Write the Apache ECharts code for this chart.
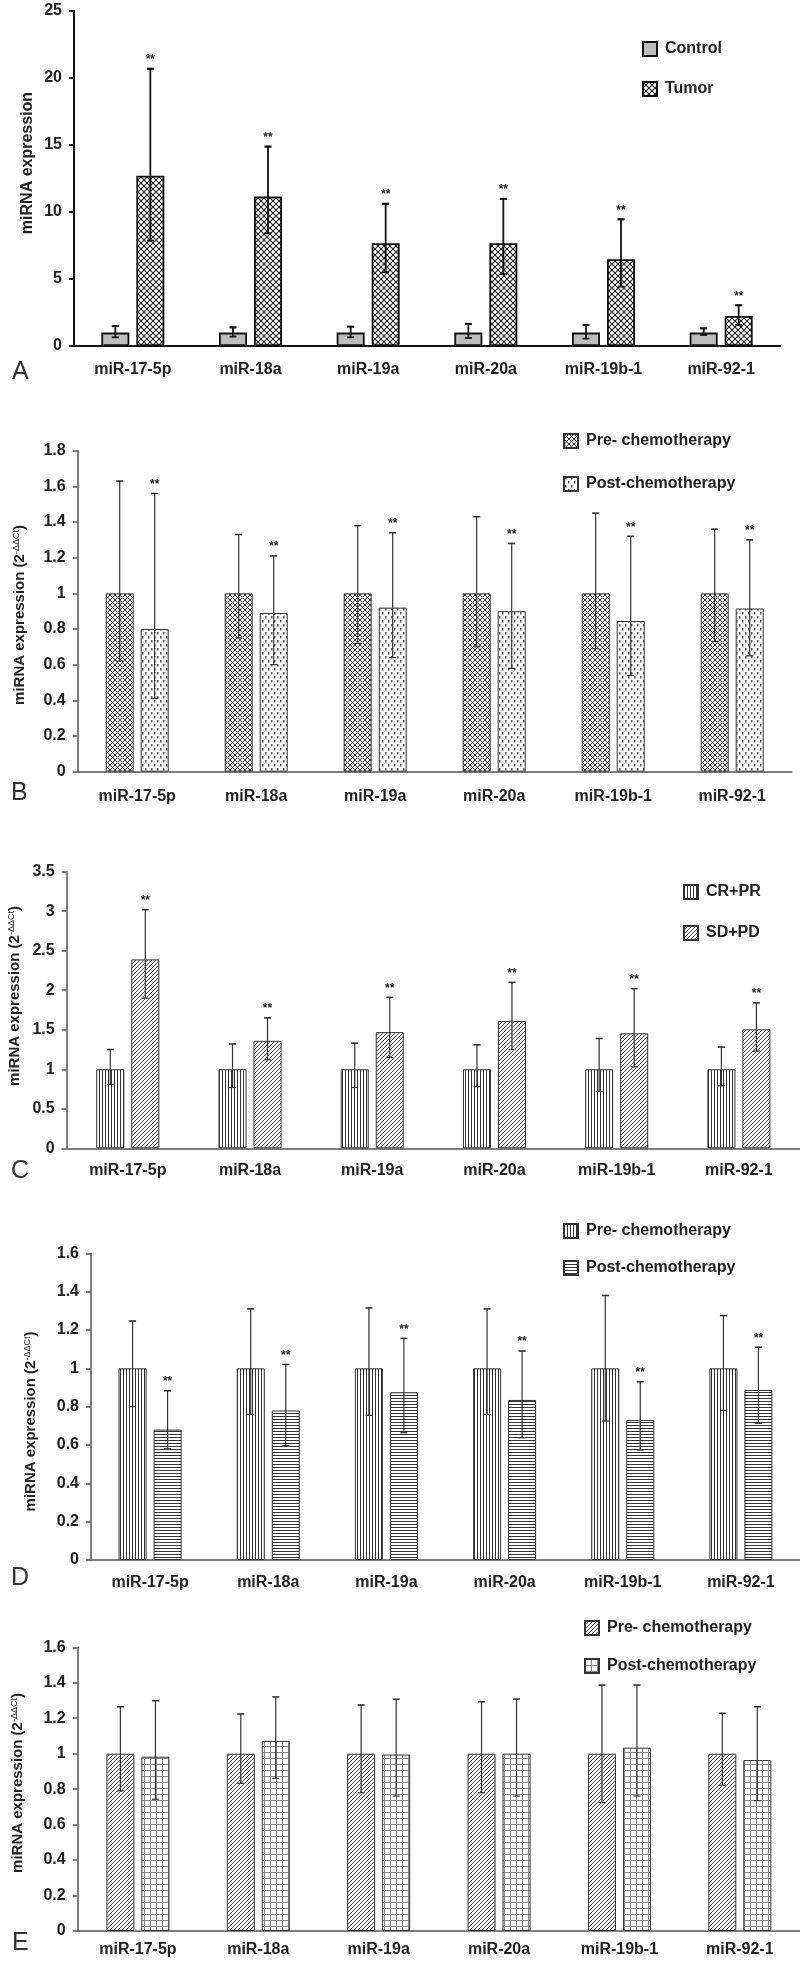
<!DOCTYPE html>
<html>
<head>
<meta charset="utf-8">
<script src="https://cdn.jsdelivr.net/npm/echarts@6/dist/echarts.min.js"></script>
<style>
  html, body { margin: 0; padding: 0; background: #fff; }
  #chart { width: 800px; height: 1962px; }
</style>
</head>
<body>
<div id="chart"></div>
<script>
// ---------- DATA ----------
const categories = ['miR-17-5p', 'miR-18a', 'miR-19a', 'miR-20a', 'miR-19b-1', 'miR-92-1'];

// Panel A
const aControl     = [1.0, 1.0, 1.0, 1.0, 1.0, 1.0];
const aControlHigh = [1.49, 1.39, 1.44, 1.64, 1.57, 1.32];
const aControlLow  = [0.65, 0.70, 0.65, 0.60, 0.55, 0.82];
const aTumor       = [12.7, 11.14, 7.66, 7.66, 6.47, 2.24];
const aTumorHigh   = [20.67, 14.87, 10.6, 10.97, 9.45, 3.04];
const aTumorLow    = [7.86, 8.4, 5.5, 5.35, 4.43, 1.57];

// Panel B
const bPre      = [1.0, 1.0, 1.0, 1.0, 1.0, 1.0];
const bPreHigh  = [1.63, 1.33, 1.38, 1.43, 1.45, 1.36];
const bPreLow   = [0.62, 0.75, 0.72, 0.70, 0.69, 0.73];
const bPost     = [0.80, 0.89, 0.92, 0.90, 0.845, 0.915];
const bPostHigh = [1.56, 1.21, 1.34, 1.28, 1.32, 1.30];
const bPostLow  = [0.41, 0.60, 0.64, 0.58, 0.54, 0.65];

// Panel C
const cCR     = [1.0, 1.0, 1.0, 1.0, 1.0, 1.0];
const cCRHigh = [1.25, 1.32, 1.33, 1.31, 1.39, 1.28];
const cCRLow  = [0.81, 0.77, 0.77, 0.78, 0.72, 0.79];
const cSD     = [2.39, 1.36, 1.47, 1.61, 1.455, 1.505];
const cSDHigh = [3.02, 1.65, 1.91, 2.10, 2.02, 1.84];
const cSDLow  = [1.90, 1.12, 1.15, 1.25, 1.03, 1.23];

// Panel D
const dPre      = [1.0, 1.0, 1.0, 1.0, 1.0, 1.0];
const dPreHigh  = [1.247, 1.31, 1.315, 1.31, 1.38, 1.275];
const dPreLow   = [0.80, 0.76, 0.755, 0.76, 0.725, 0.78];
const dPost     = [0.68, 0.78, 0.875, 0.835, 0.73, 0.887];
const dPostHigh = [0.883, 1.02, 1.156, 1.09, 0.93, 1.11];
const dPostLow  = [0.58, 0.596, 0.664, 0.638, 0.574, 0.713];

// Panel E
const ePre      = [1.0, 1.0, 1.0, 1.0, 1.0, 1.0];
const ePreHigh  = [1.265, 1.224, 1.275, 1.293, 1.387, 1.228];
const ePreLow   = [0.79, 0.833, 0.78, 0.78, 0.724, 0.823];
const ePost     = [0.983, 1.072, 0.995, 1.0, 1.034, 0.964];
const ePostHigh = [1.299, 1.32, 1.307, 1.308, 1.387, 1.265];
const ePostLow  = [0.743, 0.861, 0.761, 0.761, 0.761, 0.735];

// axis ranges / labels
const yMaxA = 25,  yStepA = 5;
const yMaxB = 1.8, yStepB = 0.2;
const yMaxC = 3.5, yStepC = 0.5;
const yMaxD = 1.6, yStepD = 0.2;
const yMaxE = 1.6, yStepE = 0.2;

const legendA = ['Control', 'Tumor'];
const legendB = ['Pre- chemotherapy', 'Post-chemotherapy'];
const legendC = ['CR+PR', 'SD+PD'];
const legendD = ['Pre- chemotherapy', 'Post-chemotherapy'];
const legendE = ['Pre- chemotherapy', 'Post-chemotherapy'];
const sigMark = '**';
const yNameA = 'miRNA expression';
const yNameRel = 'miRNA expression (2{sup|-ΔΔCt})';
const panelLetters = ['A', 'B', 'C', 'D', 'E'];

// ---------- PATTERNS ----------
function tile(w, h, draw) {
  const c = document.createElement('canvas');
  c.width = w; c.height = h;
  const ctx = c.getContext('2d');
  ctx.fillStyle = '#fff';
  ctx.fillRect(0, 0, w, h);
  draw(ctx, w, h);
  return { image: c, repeat: 'repeat' };
}
function crossHatch(s, color, lw) {
  return tile(s, s, (ctx, w, h) => {
    ctx.strokeStyle = color; ctx.lineWidth = lw;
    ctx.beginPath();
    ctx.moveTo(-1, -1); ctx.lineTo(w + 1, h + 1);
    ctx.moveTo(-1, h + 1); ctx.lineTo(w + 1, -1);
    ctx.stroke();
  });
}
function diag(s, color, lw) {
  return tile(s, s, (ctx, w, h) => {
    ctx.strokeStyle = color; ctx.lineWidth = lw;
    ctx.beginPath();
    ctx.moveTo(-1, h + 1); ctx.lineTo(w + 1, -1);
    ctx.moveTo(-1, 1); ctx.lineTo(1, -1);
    ctx.moveTo(w - 1, h + 1); ctx.lineTo(w + 1, h - 1);
    ctx.stroke();
  });
}
function vLines(s, color) {
  return tile(s, 4, (ctx, w, h) => { ctx.fillStyle = color; ctx.fillRect(0, 0, 1, h); });
}
function hLines(s, color) {
  return tile(4, s, (ctx, w, h) => { ctx.fillStyle = color; ctx.fillRect(0, 0, w, 1); });
}
function gridPat(s, color) {
  return tile(s, s, (ctx, w, h) => {
    ctx.fillStyle = color; ctx.fillRect(0, 0, w, 1); ctx.fillRect(0, 0, 1, h);
  });
}
function dots() {
  return tile(6, 8, (ctx) => {
    ctx.fillStyle = '#555';
    ctx.fillRect(1, 0, 1.5, 2.5);
    ctx.fillRect(4, 4, 1.5, 2.5);
  });
}

const pats = {
  aControl: '#bdbdbd',
  aTumor: crossHatch(6, '#222', 1.1),
  bPre: crossHatch(5, '#333', 1),
  bPost: dots(),
  cCR: vLines(3, '#333'),
  cSD: diag(4, '#444', 1),
  dPre: vLines(3, '#333'),
  dPost: hLines(3, '#333'),
  ePre: diag(4, '#444', 1),
  ePost: gridPat(6, '#888')
};

// ---------- BUILD ----------
const panels = [
  { key: 'A', grid: { left: 74, top: 10.7, width: 706, height: 335.3 }, max: yMaxA, step: yStepA,
    names: legendA, vals: [aControl, aTumor], hi: [aControlHigh, aTumorHigh], lo: [aControlLow, aTumorLow],
    fills: [pats.aControl, pats.aTumor], sig: [false, true], bold: true,
    legend: { left: 642, top: 41, gap: 24 }, labelMargin: 16 },
  { key: 'B', grid: { left: 77.7, top: 450.7, width: 714, height: 321 }, max: yMaxB, step: yStepB,
    names: legendB, vals: [bPre, bPost], hi: [bPreHigh, bPostHigh], lo: [bPreLow, bPostLow],
    fills: [pats.bPre, pats.bPost], sig: [false, true], bold: false,
    legend: { left: 563, top: 433, gap: 27 }, labelMargin: 17 },
  { key: 'C', grid: { left: 66.7, top: 871.7, width: 738, height: 276.6 }, max: yMaxC, step: yStepC,
    names: legendC, vals: [cCR, cSD], hi: [cCRHigh, cSDHigh], lo: [cCRLow, cSDLow],
    fills: [pats.cCR, pats.cSD], sig: [false, true], bold: false,
    legend: { left: 683, top: 884, gap: 25 }, labelMargin: 14 },
  { key: 'D', grid: { left: 91, top: 1253.3, width: 715.6, height: 306.7 }, max: yMaxD, step: yStepD,
    names: legendD, vals: [dPre, dPost], hi: [dPreHigh, dPostHigh], lo: [dPreLow, dPostLow],
    fills: [pats.dPre, pats.dPost], sig: [false, true], bold: false,
    legend: { left: 563, top: 1223, gap: 21 }, labelMargin: 15 },
  { key: 'E', grid: { left: 77.7, top: 1647.3, width: 731.6, height: 283.7 }, max: yMaxE, step: yStepE,
    names: legendE, vals: [ePre, ePost], hi: [ePreHigh, ePostHigh], lo: [ePreLow, ePostLow],
    fills: [pats.ePre, pats.ePost], sig: [false, false], bold: false,
    legend: { left: 584, top: 1620, gap: 22 }, labelMargin: 11 }
];

const FONT = '"Liberation Sans", Arial, Helvetica, sans-serif';
const BAR_W = 28, BAR_GAP = 7;
const grids = [], xAxes = [], yAxes = [], series = [], legends = [];
const labelMap = {};

panels.forEach((p, pi) => {
  const axisColor = p.bold ? '#111' : '#555';
  const axisW = p.bold ? 2 : 1.5;
  grids.push(Object.assign({ containLabel: false }, p.grid));
  xAxes.push({
    type: 'category', gridIndex: pi, data: categories,
    axisLine: { lineStyle: { color: axisColor, width: axisW } },
    axisTick: { length: 6, lineStyle: { color: axisColor, width: axisW } },
    axisLabel: { color: '#222', fontFamily: FONT, fontWeight: 'bold', fontSize: 16, margin: p.labelMargin, interval: 0 }
  });
  yAxes.push({
    type: 'value', gridIndex: pi, min: 0, max: p.max, interval: p.step,
    splitLine: { show: false },
    axisLine: { show: true, lineStyle: { color: axisColor, width: axisW } },
    axisTick: { show: true, length: 5, lineStyle: { color: axisColor, width: axisW } },
    axisLabel: { color: '#222', fontFamily: FONT, fontWeight: 'bold', fontSize: 16, margin: 12 }
  });
  const ids = [];
  [0, 1].forEach(si => {
    const id = p.key + '_' + si;
    ids.push(id);
    labelMap[id] = p.names[si];
    series.push({
      name: id, type: 'bar', xAxisIndex: pi, yAxisIndex: pi,
      data: p.vals[si], barWidth: BAR_W, barGap: (BAR_GAP / BAR_W * 100) + '%',
      itemStyle: { color: p.fills[si], borderColor: p.bold ? '#111' : '#333', borderWidth: p.bold ? 1.8 : 1 },
      emphasis: { disabled: true }, animation: false, z: 2
    });
    const offset = (si === 0 ? -1 : 1) * (BAR_W + BAR_GAP) / 2;
    const errData = categories.map((c, i) => [i, p.hi[si][i], p.lo[si][i], p.sig[si] ? 1 : 0]);
    series.push({
      name: id + '_err', type: 'custom', xAxisIndex: pi, yAxisIndex: pi,
      data: errData, z: 5, animation: false, silent: true,
      encode: { x: 0, y: [1, 2] },
      renderItem: (params, api) => {
        const i = api.value(0);
        const top = api.coord([i, api.value(1)]);
        const bot = api.coord([i, api.value(2)]);
        const x = top[0] + offset;
        const lw = p.bold ? 1.8 : 1.2;
        const col = p.bold ? '#111' : '#333';
        const cap = 3.5;
        const children = [
          { type: 'line', shape: { x1: x, y1: top[1], x2: x, y2: bot[1] }, style: { stroke: col, lineWidth: lw } },
          { type: 'line', shape: { x1: x - cap, y1: top[1], x2: x + cap, y2: top[1] }, style: { stroke: col, lineWidth: lw + 0.4 } },
          { type: 'line', shape: { x1: x - cap, y1: bot[1], x2: x + cap, y2: bot[1] }, style: { stroke: col, lineWidth: lw } }
        ];
        if (api.value(3)) {
          children.push({ type: 'text', style: { text: sigMark, x: x, y: top[1] - 3, align: 'center', verticalAlign: 'bottom',
            fontFamily: FONT, fontWeight: 'bold', fontSize: 12, fill: '#222' } });
        }
        return { type: 'group', children };
      }
    });
  });
  legends.push({
    data: ids, left: p.legend.left, top: p.legend.top, orient: 'vertical', padding: 0,
    itemWidth: 14, itemHeight: 14, itemGap: p.legend.gap, selectedMode: false,
    icon: 'rect',
    formatter: (n) => labelMap[n],
    textStyle: { fontFamily: FONT, fontWeight: 'bold', fontSize: 16, lineHeight: 14, color: '#222', padding: [0, 0, 0, 3] }
  });
});

// graphic texts: axis names & panel letters
const yNamePos = [[28, 163], [20, 615], [15, 996], [31, 1421.5], [18, 1783]];
const letterPos = [[12, 372], [11, 793], [11, 1171], [11, 1578], [12, 1943]];
const graphics = [];
yNamePos.forEach((pos, i) => {
  graphics.push({
    type: 'text', x: pos[0], y: pos[1], rotation: Math.PI / 2, silent: true,
    style: {
      text: i === 0 ? yNameA : yNameRel,
      x: 0, y: 0, align: 'center', verticalAlign: 'middle',
      fontFamily: FONT, fontWeight: 'bold', fontSize: i === 0 ? 16 : 15, fill: '#222',
      rich: { sup: { fontFamily: FONT, fontSize: 9, fill: '#222', verticalAlign: 'top', lineHeight: 9 } }
    }
  });
});
letterPos.forEach((pos, i) => {
  graphics.push({
    type: 'text', x: pos[0], y: pos[1], silent: true,
    style: { text: panelLetters[i], x: 0, y: 0, align: 'left', verticalAlign: 'middle',
      fontFamily: FONT, fontSize: 25, fill: '#333' }
  });
});

const chart = echarts.init(document.getElementById('chart'), null, { renderer: 'canvas' });
chart.setOption({
  animation: false,
  backgroundColor: '#fff',
  grid: grids, xAxis: xAxes, yAxis: yAxes, series: series, legend: legends,
  graphic: graphics
});
</script>
</body>
</html>
